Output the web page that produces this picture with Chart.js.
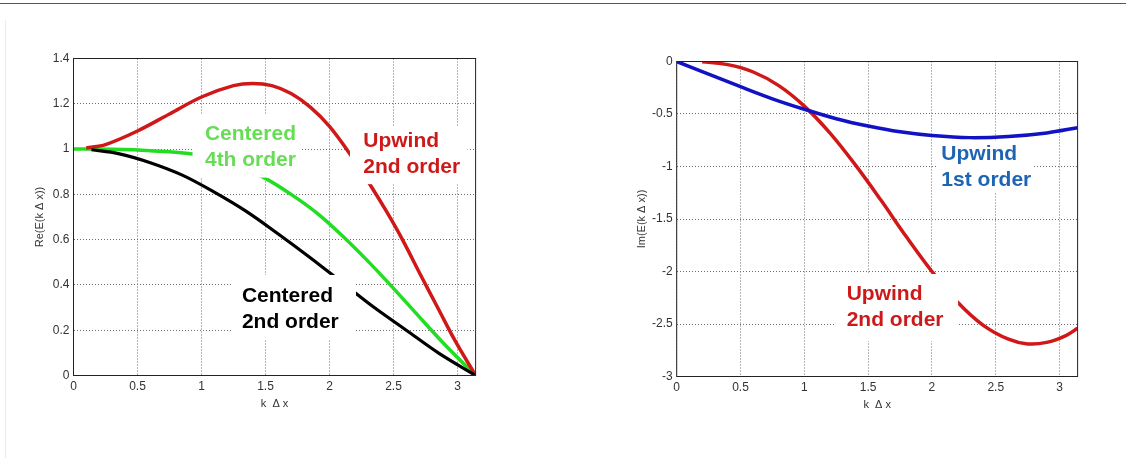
<!DOCTYPE html>
<html>
<head>
<meta charset="utf-8">
<script src="https://cdn.jsdelivr.net/npm/chart.js@4/dist/chart.umd.min.js"></script>
<style>
  body { margin: 0; background: #fff; width: 1126px; height: 458px; overflow: hidden; position: relative; }
  #topRule { position: absolute; left: 0; top: 3px; width: 1126px; height: 1px; background: #555; }
  #sideRule { position: absolute; left: 5px; top: 20px; width: 1px; height: 438px; background: #ececec; }
  canvas { position: absolute; top: 0; }
  #reChart { left: 0; }
  #imChart { left: 603px; }
</style>
</head>
<body>
<div id="topRule"></div>
<div id="sideRule"></div>
<canvas id="reChart" width="560" height="458"></canvas>
<canvas id="imChart" width="523" height="458"></canvas>
<script>
"use strict";
// tick labels
const xTicks = [0, 0.5, 1, 1.5, 2, 2.5, 3];
const reTicks = [0, 0.2, 0.4, 0.6, 0.8, 1, 1.2, 1.4];
const imTicks = [-3, -2.5, -2, -1.5, -1, -0.5, 0];

// Re(E) - upwind 2nd order
const upwind2ReK = [0.10, 0.25, 0.5, 0.75, 1.0, 1.25, 1.4, 1.55, 1.7, 1.85, 2.0, 2.17, 2.32, 2.45, 2.57, 2.72, 2.85, 2.98, 3.1416];
const upwind2ReV = [1.005, 1.02, 1.08, 1.155, 1.23, 1.28, 1.29, 1.28, 1.245, 1.185, 1.10, 0.97, 0.84, 0.72, 0.60, 0.435, 0.295, 0.155, 0.0];
// Re(E) - centered 4th order
const centered4K = [0, 0.3, 0.6, 0.93, 1.2, 1.48, 1.7, 1.9, 2.1, 2.3, 2.5, 2.7, 2.9, 3.1416];
const centered4V = [1.0, 0.999, 0.993, 0.978, 0.942, 0.876, 0.80, 0.718, 0.617, 0.505, 0.385, 0.26, 0.137, 0.0];
// Re(E) - centered 2nd order
const centered2K = [0.14, 0.35, 0.6, 0.85, 1.1, 1.35, 1.6, 1.85, 2.1, 2.35, 2.6, 2.85, 3.1416];
const centered2V = [0.997, 0.98, 0.94, 0.885, 0.81, 0.725, 0.625, 0.52, 0.41, 0.30, 0.20, 0.10, 0.0];

// Im(E) - upwind 1st order
const upwind1ImK = [0, 0.25, 0.5, 0.75, 1.0, 1.25, 1.5, 1.75, 2.0, 2.3, 2.6, 2.9, 3.1416];
const upwind1ImV = [0, -0.12, -0.24, -0.355, -0.455, -0.545, -0.615, -0.67, -0.705, -0.725, -0.714, -0.68, -0.63];
// Im(E) - upwind 2nd order
const upwind2ImK = [0.2, 0.4, 0.6, 0.8, 1.0, 1.2, 1.4, 1.6, 1.8, 2.0, 2.2, 2.4, 2.6, 2.75, 2.9, 3.05, 3.1416];
const upwind2ImV = [-0.003, -0.03, -0.10, -0.23, -0.425, -0.68, -0.985, -1.32, -1.67, -2.0, -2.29, -2.51, -2.645, -2.69, -2.675, -2.61, -2.54];

const FONT = '"Liberation Sans", Arial, sans-serif';

function series(k, v, color, width) {
    return {
        data: k.map((x, i) => ({ x: x, y: v[i] })),
        borderColor: color,
        borderWidth: width,
        pointRadius: 0,
        fill: false,
        tension: 0.35
    };
}

// text labels on white boxes + the axes frame
function boxLabels(items) {
    return {
        id: 'boxLabels',
        afterDatasetsDraw(chart) {
            const ctx = chart.ctx;
            const sx = chart.scales.x, sy = chart.scales.y;
            ctx.save();
            items.forEach(it => {
                const x0 = sx.getPixelForValue(it.box[0]);
                const x1 = sx.getPixelForValue(it.box[1]);
                const y0 = sy.getPixelForValue(it.box[2]);
                const y1 = sy.getPixelForValue(it.box[3]);
                ctx.fillStyle = '#fff';
                ctx.fillRect(x0, Math.min(y0, y1), x1 - x0, Math.abs(y1 - y0));
                ctx.fillStyle = it.color;
                ctx.font = 'bold 21px ' + FONT;
                ctx.textBaseline = 'alphabetic';
                ctx.textAlign = 'left';
                const tx = sx.getPixelForValue(it.at[0]);
                const ty = sy.getPixelForValue(it.at[1]);
                it.lines.forEach((s, i) => ctx.fillText(s, tx, ty + i * 26));
            });
            const a = chart.chartArea;
            ctx.strokeStyle = '#222';
            ctx.lineWidth = 1;
            ctx.strokeRect(a.left, a.top, a.right - a.left, a.bottom - a.top);
            ctx.restore();
        }
    };
}

function makeChart(id, o) {
    const tickFont = { size: 12, family: FONT };
    const titleFont = { size: 11, family: FONT };
    return new Chart(document.getElementById(id), {
        type: 'line',
        data: { datasets: o.datasets },
        options: {
            responsive: false,
            animation: false,
            events: [],
            layout: { padding: { left: 0, top: o.top, right: o.right, bottom: 0 } },
            plugins: { legend: { display: false }, tooltip: { enabled: false } },
            scales: {
                x: {
                    type: 'linear',
                    min: 0,
                    max: Math.PI,
                    afterBuildTicks: s => { s.ticks = xTicks.map(v => ({ value: v })); },
                    afterFit: s => { s.height = o.xHeight; },
                    grid: { color: '#6e6e6e', lineWidth: 1, drawTicks: false },
                    border: { display: false, dash: [1, 2] },
                    ticks: { padding: 4, color: '#333', font: tickFont, maxRotation: 0, autoSkip: false, callback: v => String(v) },
                    title: { display: true, text: 'k  Δ x', color: '#333', font: titleFont, padding: { top: 0, bottom: o.xTitlePad } }
                },
                y: {
                    type: 'linear',
                    min: o.yTicks[0],
                    max: o.yTicks[o.yTicks.length - 1],
                    afterBuildTicks: s => { s.ticks = o.yTicks.map(v => ({ value: v })); },
                    afterFit: s => { s.width = o.yWidth; },
                    grid: { color: '#6e6e6e', lineWidth: 1, drawTicks: false },
                    border: { display: false, dash: [1, 2] },
                    ticks: { padding: 4, color: '#333', font: tickFont, autoSkip: false, callback: v => String(v) },
                    title: { display: true, text: o.yTitle, color: '#333', font: titleFont, padding: { top: o.yTitlePad, bottom: 0 } }
                }
            }
        },
        plugins: [boxLabels(o.labels)]
    });
}

// Real part
makeChart('reChart', {
    top: 58.5, right: 84.4, xHeight: 82.5, yWidth: 73.5, xTitlePad: 47.4, yTitlePad: 33.4,
    yTicks: reTicks,
    yTitle: 'Re(E(k Δ x))',
    datasets: [
        series(centered2K, centered2V, '#000000', 3.2),
        series(upwind2ReK, upwind2ReV, '#d01818', 3.5),
        series(centered4K, centered4V, '#22dd22', 3.5)
    ],
    labels: [
        { box: [0.93, 1.77, 1.155, 0.874], at: [1.027, 1.040], lines: ['Centered', '4th order'], color: '#66dd55' },
        { box: [1.23, 2.207, 0.444, 0.157], at: [1.316, 0.326], lines: ['Centered', '2nd order'], color: '#000000' },
        { box: [2.16, 3.08, 1.10, 0.845], at: [2.264, 1.010], lines: ['Upwind', '2nd order'], color: '#cc1a1a' }
    ]
});

// Imaginary part
makeChart('imChart', {
    top: 61.5, right: 48.4, xHeight: 81.5, yWidth: 73.7, xTitlePad: 46.4, yTitlePad: 32.1,
    yTicks: imTicks,
    yTitle: 'Im(E(k Δ x))',
    datasets: [
        series(upwind1ImK, upwind1ImV, '#1212c4', 3.5),
        series(upwind2ImK, upwind2ImV, '#d01818', 3.5)
    ],
    labels: [
        { box: [2.032, 2.785, -0.748, -1.243], at: [2.074, -0.938], lines: ['Upwind', '1st order'], color: '#1e64b4' },
        { box: [1.233, 2.205, -2.024, -2.662], at: [1.332, -2.269], lines: ['Upwind', '2nd order'], color: '#cc1a1a' }
    ]
});
</script>
</body>
</html>
